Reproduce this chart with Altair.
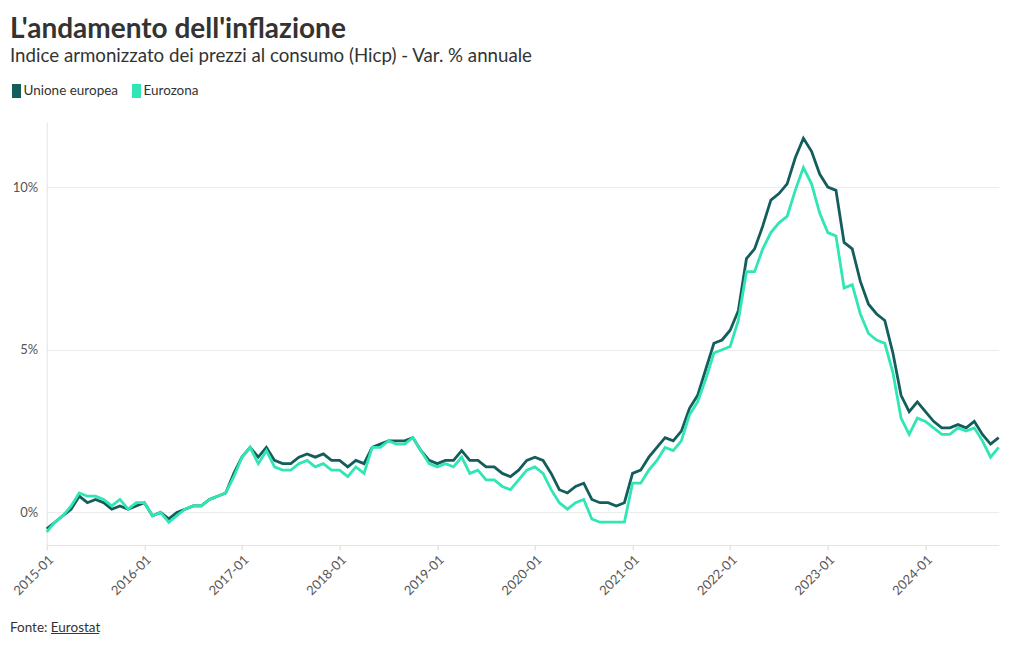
import altair as alt
import pandas as pd

# Monthly categories 2015-01 .. 2024-10
months = [f"{y}-{m:02d}" for y in range(2015, 2025) for m in range(1, 13)][:118]
tick_labels = [f"{y}-01" for y in range(2015, 2025)]

eu = [
    -0.5, -0.3, -0.1, 0.1, 0.5, 0.3, 0.4, 0.3, 0.1, 0.2, 0.1, 0.2,   # 2015
    0.3, -0.1, 0.0, -0.2, 0.0, 0.1, 0.2, 0.2, 0.4, 0.5, 0.6, 1.2,    # 2016
    1.7, 2.0, 1.7, 2.0, 1.6, 1.5, 1.5, 1.7, 1.8, 1.7, 1.8, 1.6,      # 2017
    1.6, 1.4, 1.6, 1.5, 2.0, 2.1, 2.2, 2.2, 2.2, 2.3, 1.9, 1.6,      # 2018
    1.5, 1.6, 1.6, 1.9, 1.6, 1.6, 1.4, 1.4, 1.2, 1.1, 1.3, 1.6,      # 2019
    1.7, 1.6, 1.2, 0.7, 0.6, 0.8, 0.9, 0.4, 0.3, 0.3, 0.2, 0.3,      # 2020
    1.2, 1.3, 1.7, 2.0, 2.3, 2.2, 2.5, 3.2, 3.6, 4.4, 5.2, 5.3,      # 2021
    5.6, 6.2, 7.8, 8.1, 8.8, 9.6, 9.8, 10.1, 10.9, 11.5, 11.1, 10.4, # 2022
    10.0, 9.9, 8.3, 8.1, 7.1, 6.4, 6.1, 5.9, 4.9, 3.6, 3.1, 3.4,     # 2023
    3.1, 2.8, 2.6, 2.6, 2.7, 2.6, 2.8, 2.4, 2.1, 2.3,                # 2024
]
ez = [
    -0.6, -0.3, -0.1, 0.2, 0.6, 0.5, 0.5, 0.4, 0.2, 0.4, 0.1, 0.3,   # 2015
    0.3, -0.1, 0.0, -0.3, -0.1, 0.1, 0.2, 0.2, 0.4, 0.5, 0.6, 1.1,   # 2016
    1.7, 2.0, 1.5, 1.9, 1.4, 1.3, 1.3, 1.5, 1.6, 1.4, 1.5, 1.3,      # 2017
    1.3, 1.1, 1.4, 1.2, 2.0, 2.0, 2.2, 2.1, 2.1, 2.3, 1.9, 1.5,      # 2018
    1.4, 1.5, 1.4, 1.7, 1.2, 1.3, 1.0, 1.0, 0.8, 0.7, 1.0, 1.3,      # 2019
    1.4, 1.2, 0.7, 0.3, 0.1, 0.3, 0.4, -0.2, -0.3, -0.3, -0.3, -0.3, # 2020
    0.9, 0.9, 1.3, 1.6, 2.0, 1.9, 2.2, 3.0, 3.4, 4.1, 4.9, 5.0,      # 2021
    5.1, 5.9, 7.4, 7.4, 8.1, 8.6, 8.9, 9.1, 9.9, 10.6, 10.1, 9.2,    # 2022
    8.6, 8.5, 6.9, 7.0, 6.1, 5.5, 5.3, 5.2, 4.3, 2.9, 2.4, 2.9,      # 2023
    2.8, 2.6, 2.4, 2.4, 2.6, 2.5, 2.6, 2.2, 1.7, 2.0,                # 2024
]

series_names = ["Unione europea", "Eurozona"]
series_colors = ["#135e5c", "#2fe6b4"]

rows = [{"mese": m, "serie": series_names[0], "valore": v} for m, v in zip(months, eu)]
rows += [{"mese": m, "serie": series_names[1], "valore": v} for m, v in zip(months, ez)]
df = pd.DataFrame(rows)

FONT = "Lato"
W, H = 952, 423
PL, PT = 38.7, 114

lines = alt.Chart(df).mark_line(strokeWidth=2.8, strokeJoin="miter").encode(
    x=alt.X(
        "mese:O",
        sort=months,
        scale=alt.Scale(type="point", padding=0),
        axis=alt.Axis(
            values=tick_labels,
            labelAngle=-45,
            labelFont=FONT,
            labelFontSize=13,
            labelColor="#555555",
            tickColor="#d9d9d9",
            tickSize=5,
            domainColor="#e3e3e3",
            labelPadding=3,
            title=None,
        ),
    ),
    y=alt.Y(
        "valore:Q",
        scale=alt.Scale(domain=[-1, 12], nice=False, zero=False),
        axis=alt.Axis(
            values=[0, 5, 10],
            labelExpr="datum.value + '%'",
            labelFont=FONT,
            labelFontSize=13,
            labelColor="#555555",
            ticks=False,
            grid=True,
            gridColor="#ebebeb",
            domainColor="#e3e3e3",
            labelPadding=9,
            title=None,
        ),
    ),
    color=alt.Color(
        "serie:N",
        scale=alt.Scale(domain=series_names, range=series_colors),
        legend=alt.Legend(
            title=None,
            orient="none",
            legendX=-37.2,
            legendY=-38,
            direction="horizontal",
            symbolType="M0,-2.8L0,2.8",
            symbolSize=25,
            symbolStrokeWidth=9,
            labelFont=FONT,
            labelFontSize=13.5,
            labelColor="#333333",
            labelOffset=0,
            columnPadding=0,
            gridAlign="none",
        ),
    ),
)

footer_df = pd.DataFrame({"t": ["Fonte: Eurostat"]})
footer = alt.Chart(footer_df).mark_text(
    align="left", baseline="alphabetic", font=FONT, fontSize=13.5, color="#333333"
).encode(text="t:N", x=alt.value(-36.7), y=alt.value(509.7))

underline = alt.Chart(footer_df).mark_rule(color="#333333", strokeWidth=1).encode(
    x=alt.value(4.3), x2=alt.value(52.5), y=alt.value(511.5)
)

chart = alt.layer(lines, footer, underline).properties(
    width=W,
    height=H,
    padding={"left": PL, "top": PT, "right": 6, "bottom": 95},
    autosize=alt.AutoSizeParams(type="none"),
    title=alt.TitleParams(
        text="L'andamento dell'inflazione",
        subtitle="Indice armonizzato dei prezzi al consumo (Hicp) - Var. % annuale",
        anchor="start",
        frame="group",
        dx=-36.7,
        offset=18,
        font=FONT,
        fontSize=28,
        fontWeight="bold",
        color="#333333",
        subtitleFont=FONT,
        subtitleFontSize=18.7,
        subtitleColor="#333333",
        subtitlePadding=3,
    ),
).configure_view(stroke=None)

chart.save("out.html", embed_options={"renderer": "svg", "actions": False})
